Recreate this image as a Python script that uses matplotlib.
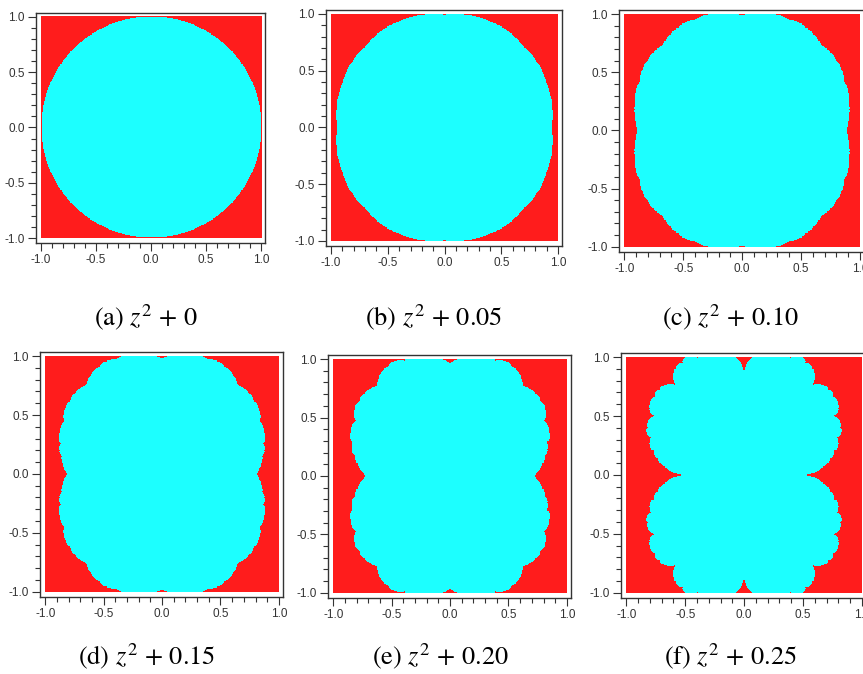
import numpy as np
import matplotlib.pyplot as plt
from matplotlib.colors import ListedColormap

plt.rcParams['mathtext.fontset'] = 'stix'
plt.rcParams['axes.unicode_minus'] = False

# constants c of z -> z^2 + c, one per panel
c_values = [0.0, 0.05, 0.10, 0.15, 0.20, 0.25]
captions = ['(a) $z^2$ + 0', '(b) $z^2$ + 0.05', '(c) $z^2$ + 0.10',
            '(d) $z^2$ + 0.15', '(e) $z^2$ + 0.20', '(f) $z^2$ + 0.25']
major_ticks = [-1.0, -0.5, 0.0, 0.5, 1.0]
tick_labels = ['-1.0', '-0.5', '0.0', '0.5', '1.0']

# panel boxes in pixels: left, right, top, bottom
boxes = [(36, 265, 13, 243), (326, 562, 10, 246), (619, 864, 10, 252),
         (40, 283, 352, 597), (328, 571, 355, 598), (621, 866, 353, 598)]
caption_pos = [(146, 317), (434, 317), (730, 317),
               (147, 656), (440, 656), (731, 656)]

W, H = 863, 674
RED = '#ff1c1c'
CYAN = '#1cffff'
cmap = ListedColormap([RED, CYAN])


def filled_julia(c, n=420, max_iter=250):
    x = np.linspace(-1, 1, n)
    X, Y = np.meshgrid(x, x)
    z = X + 1j * Y
    inside = np.ones(z.shape, dtype=bool)
    for i in range(max_iter):
        z[inside] = z[inside] ** 2 + c
        inside &= np.abs(z) <= 2
    return inside.astype(int)


fig = plt.figure(figsize=(W / 100, H / 100), dpi=100)

for k in range(6):
    L, R, T, B = boxes[k]
    ax = fig.add_axes([L / W, 1 - B / H, (R - L) / W, (B - T) / H])
    img = filled_julia(c_values[k])
    ax.imshow(img, extent=[-1, 1, -1, 1], origin='lower', cmap=cmap,
              vmin=0, vmax=1, interpolation='nearest', aspect='auto')
    ax.set_xlim(-1.045, 1.035)
    ax.set_ylim(-1.045, 1.035)
    ax.set_xticks(major_ticks)
    ax.set_yticks(major_ticks)
    ax.set_xticklabels(tick_labels)
    ax.set_yticklabels(tick_labels)
    ax.set_xticks(np.arange(-1.0, 1.01, 0.1), minor=True)
    ax.set_yticks(np.arange(-1.0, 1.01, 0.1), minor=True)
    ax.tick_params(which='major', direction='out', length=6, width=0.8,
                   color='#333333', labelsize=8.5, labelcolor='#333333', pad=2)
    ax.tick_params(which='minor', direction='out', length=3.5, width=0.8,
                   color='#333333')
    for lab in ax.get_xticklabels() + ax.get_yticklabels():
        lab.set_family('Liberation Sans')
    for s in ax.spines.values():
        s.set_color('#333333')
        s.set_linewidth(1.0)

    cx, cy = caption_pos[k]
    fig.text(cx / W, 1 - cy / H, captions[k], ha='center', va='center',
             fontsize=19, family='STIXGeneral')

fig.savefig('out.png', dpi=100)
